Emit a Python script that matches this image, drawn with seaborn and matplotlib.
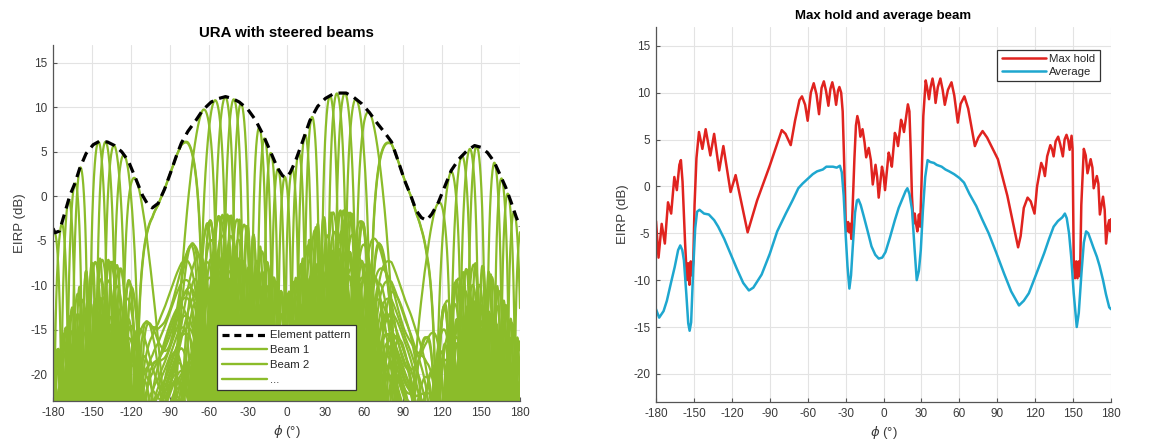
import numpy as np
import pandas as pd
import matplotlib
matplotlib.use("Agg")
import matplotlib.pyplot as plt
import seaborn as sns
from matplotlib.lines import Line2D

# element pattern (phi in deg, EIRP in dB)
ELEM_PHI = [-180, -178.5, -175, -172, -167, -163, -159.5, -154.5, -149, -144, -138,
            -132.5, -127, -122, -116, -111, -107, -103.5, -99, -94, -89, -85, -81,
            -76, -70, -64.5, -58, -52, -47, -42, -36.5, -30, -24, -18, -12, -7, -3,
            0, 3, 7, 12, 18, 24, 30, 36, 41, 46, 52, 58, 64, 70, 76, 81, 86, 91, 96,
            100, 104, 108, 112, 117, 122, 127, 133, 139, 145, 150, 155, 160, 165,
            169, 173, 177, 180]
ELEM_DB = [-3.6, -4.1, -3.9, -2.4, 0.1, 1.5, 3.1, 4.8, 5.8, 6.2, 6.1,
           5.7, 5.0, 4.0, 1.9, 0.1, -0.9, -1.3, -0.8, 0.8, 2.8, 4.5, 6.0,
           7.3, 8.5, 9.7, 10.6, 11.0, 11.2, 11.0, 10.6, 9.8, 8.6, 6.9, 4.9, 3.2, 2.3,
           2.1, 2.7, 4.0, 6.0, 8.5, 10.1, 11.0, 11.5, 11.6, 11.6, 11.1, 10.4, 9.4, 8.2, 7.1, 6.1, 4.0, 1.8, 0.0,
           -1.6, -2.4, -2.7, -2.0, -0.7, 1.1, 2.9, 4.2, 5.1, 5.7, 5.5, 4.9, 3.9, 2.3,
           1.0, -0.6, -2.3, -3.4]

# directions the beams point to (deg), read from the lobe peaks
BEAM_STEER = [-88, -64.5, -55.2, -47.2, -40.5, -34.9,
              -20.7, -16.6, -11.7, -6.3, -1.2, 4.1, 9.0, 13.9, 19.4,
              33.4, 38.8, 45.0, 53.8, 64.0, 88]
N_ELEM = 20
# beams of the other rows seen in the cut: level below the top row (dB)
# and their offset in sin(phi)
ROW_LEVEL = [0, -13.3, -15.5, -17.5, -19.5, -21.5]
ROW_SHIFT = [0, 0.035, -0.03, 0.02, -0.045, 0.01]

# right panel curves (phi, dB)
MAX_HOLD = [(-180, -3.7), (-178, -7.6), (-175.5, -4.0), (-173, -6.1), (-170.5, -1.7),
            (-168, -2.9), (-165.5, 1.0), (-163.5, -0.4), (-161.5, 2.3), (-160.3, 2.8),
            (-159, 0.5), (-157, -6.0), (-155.5, -10.0), (-154.5, -8.2), (-153.5, -10.5),
            (-152.5, -8.0), (-151.5, -9.5), (-150.5, -8.0), (-149.5, -2.0), (-148, 3.0),
            (-146, 5.8), (-143.3, 4.0), (-140.7, 6.1), (-137, 3.3), (-134, 5.6),
            (-130, 1.7), (-126.7, 4.3), (-121, -0.6), (-117, 1.2), (-112, -2.0),
            (-107.5, -4.9), (-100, -1.5), (-90, 2.2), (-84, 4.6), (-80.5, 6.0),
            (-77.5, 5.6), (-73.4, 4.4), (-70, 7.0), (-66.5, 9.2), (-64.5, 9.6),
            (-62, 8.7), (-60, 7.0), (-57.5, 10.0), (-55.2, 11.0), (-53, 9.8),
            (-51, 7.7), (-49, 10.5), (-47.2, 11.2), (-45.5, 10.2), (-43.6, 8.6),
            (-42, 10.4), (-40.5, 11.1), (-39, 10.2), (-37.5, 8.7), (-36, 10.2),
            (-34.9, 10.6), (-33.5, 10.0), (-32.3, 8.0), (-31, 2.0), (-30, -3.6),
            (-29, -4.8), (-28, -3.8), (-27, -4.9), (-26, -4.0), (-25.5, -5.6),
            (-24.5, -2.5), (-23, 3.0), (-21.8, 6.5), (-20.7, 7.5), (-19.5, 6.8),
            (-18.3, 5.3), (-16.6, 6.1), (-15, 4.7), (-13.7, 3.1), (-11.7, 4.1),
            (-10, 2.8), (-8.5, 0.2), (-6.3, 2.3), (-5, 1.0), (-3.8, -1.2),
            (-1.2, 2.1), (0, 1.3), (1.2, -0.4), (4.1, 3.6), (5.3, 3.0),
            (6.6, 2.1), (9, 5.7), (10.2, 5.3), (11.5, 4.3), (13.9, 7.1),
            (15, 6.6), (16.2, 5.8), (19.3, 8.75), (20.5, 8.0), (21.5, 4.0),
            (22.5, -1.0), (23.7, -4.0), (24.7, -2.9), (25.5, -3.8), (26.8, -4.8),
            (28, -3.0), (29, -4.3), (30, 0.0), (31.5, 7.5), (33.4, 11.3),
            (34.8, 10.3), (36, 9.3), (37.3, 10.6), (38.8, 11.5), (40.2, 10.4),
            (41.2, 8.9), (43, 10.6), (45, 11.5), (46.8, 10.3), (48.5, 8.7),
            (51, 10.3), (53.8, 11.1), (56, 9.7), (58.8, 6.8), (61, 8.8),
            (64, 9.6), (67, 8.3), (72.3, 4.3), (75, 5.2), (78.4, 5.9),
            (82, 5.2), (90.5, 2.9), (98, -1.0), (106.5, -6.5), (108.5, -5.3),
            (111, -2.3), (114, -1.2), (116.5, -1.6), (119.5, -2.9), (121.5, 0.0),
            (124.8, 2.5), (126.3, 2.0), (127.7, 1.1), (129.5, 3.2), (132, 4.4),
            (133.3, 4.0), (134.6, 3.2), (136.2, 4.8), (138.2, 5.3), (139.8, 4.5),
            (141.9, 3.2), (143.3, 5.0), (144.8, 5.5), (146.2, 4.9), (147.3, 3.9),
            (148.8, 5.4), (149.6, 4.0), (150.5, -7.8), (151.5, -9.8), (152.5, -8.0),
            (153.5, -9.8), (154.5, -8.0), (155.5, -9.6), (156.5, -2.0), (158.5, 4.0),
            (160, 3.3), (161.4, 1.4), (163.9, 2.9), (165.3, 2.0), (166.3, -0.2),
            (168.8, 1.1), (170, 0.3), (171.2, -3.0), (173.7, -1.1), (175, -2.5),
            (176.1, -6.1), (177.5, -4.2), (178.6, -3.6), (179.3, -4.8), (180, -3.5)]

AVERAGE = [(-180, -13.1), (-177.5, -14.0), (-174, -13.3), (-171.4, -12.2), (-168, -10.2),
           (-165.2, -8.6), (-162.5, -6.8), (-160.8, -6.3), (-159.2, -6.8), (-157.9, -7.9),
           (-156, -11.5), (-154.5, -14.6), (-153.4, -15.4), (-152.2, -14.5), (-150.5, -8.6),
           (-149, -4.5), (-147.5, -2.7), (-145.6, -2.5), (-142, -2.9), (-138.2, -3.0),
           (-134, -3.6), (-130.8, -4.3), (-126, -5.6), (-121, -7.2), (-116, -8.8),
           (-111, -10.3), (-106.5, -11.1), (-103, -10.8), (-96.4, -9.4), (-90, -7.2),
           (-84.1, -4.8), (-77.3, -2.9), (-72, -1.5), (-67.4, -0.2), (-64, 0.3),
           (-60, 0.8), (-56, 1.3), (-52.6, 1.6), (-48, 1.8), (-45.2, 2.1),
           (-40, 2.1), (-37, 2.0), (-34.5, 2.2), (-33, 1.5), (-31.5, -1.0),
           (-30, -5.0), (-28.5, -8.5), (-27, -10.9), (-25.7, -9.5), (-24.3, -6.4),
           (-22.5, -2.8), (-21, -1.5), (-19.8, -1.4), (-18, -2.0), (-15.6, -3.2),
           (-12.5, -4.8), (-9.5, -6.4), (-6.5, -7.3), (-3.8, -7.7), (-1, -7.6),
           (1.6, -7.0), (5, -5.5), (9, -3.6), (12, -2.3), (15.2, -1.25),
           (17.5, -0.5), (18.9, -0.2), (20.5, -0.8), (22.6, -2.5), (24.5, -6.5),
           (26.3, -10.0), (28, -9.0), (29.5, -6.8), (31.2, -2.5), (33, 1.0),
           (34.9, 2.8), (37, 2.6), (39.9, 2.5), (42, 2.3), (46, 2.1),
           (49, 1.8), (52, 1.6), (55.9, 1.3), (60, 0.9), (63.7, 0.4),
           (68, -0.8), (73.4, -2.1), (78, -3.5), (83.2, -5.0), (89, -7.0),
           (95.4, -9.3), (101, -11.2), (107.2, -12.7), (111, -12.2), (115, -11.4),
           (121, -9.3), (127.2, -7.1), (131, -5.6), (134.6, -4.3), (138, -3.7),
           (141.5, -3.3), (143.5, -2.9), (145, -3.4), (146.8, -5.0), (148.5, -7.5),
           (150.5, -11.4), (152.9, -15.0), (154.5, -13.5), (156.6, -9.3), (158.5, -6.0),
           (160.3, -4.8), (162, -5.0), (163.9, -5.7), (166, -6.5), (168.8, -7.5),
           (171, -8.5), (173.7, -10.0), (176, -11.5), (178.6, -12.9), (180, -13.1)]

XTICKS = list(range(-180, 181, 30))
YTICKS = list(range(-20, 16, 5))

GREEN = "#8bbc2a"
RED = "#e0231f"
BLUE = "#1ea7cf"
TEXT = "#3a3a3a"

sns.set_theme(style="whitegrid")
plt.rcParams["font.family"] = ["Liberation Sans", "DejaVu Sans"]
plt.rcParams["mathtext.fontset"] = "dejavusans"
plt.rcParams["axes.unicode_minus"] = False

fig = plt.figure(figsize=(11.61, 4.48), dpi=100)
ax1 = fig.add_axes([53 / 1161, 1 - 401 / 448, 467 / 1161, 356 / 448])
ax2 = fig.add_axes([656 / 1161, 1 - 402 / 448, 455 / 1161, 375 / 448])

# left: every steered beam = element pattern + array factor of the row
phi = np.linspace(-180, 180, 4801)
elem = np.interp(phi, ELEM_PHI, ELEM_DB)
frames = []
k = 0
for level, shift in zip(ROW_LEVEL, ROW_SHIFT):
    for st in BEAM_STEER:
        u0 = np.clip(np.sin(np.radians(st)) + shift, -1, 1)
        x = np.pi * 0.5 * (np.sin(np.radians(phi)) - u0)
        af = np.abs(np.sinc(N_ELEM * x / np.pi) / np.sinc(x / np.pi))
        db = elem + level + 20 * np.log10(np.maximum(af, 1e-4))
        frames.append(pd.DataFrame({"phi": phi, "eirp": db, "beam": k}))
        k += 1
# draw the top row last so its lobes sit on top
beams = pd.concat(frames[::-1], ignore_index=True)

sns.lineplot(data=beams, x="phi", y="eirp", units="beam", estimator=None,
             sort=False, color=GREEN, lw=1.6, ax=ax1)
sns.lineplot(x=ELEM_PHI, y=ELEM_DB, color="black", lw=2.3, sort=False,
             linestyle=(0, (3.2, 2.0)), ax=ax1)

handles = [Line2D([], [], color="black", lw=2.3, linestyle=(0, (2.2, 1.5))),
           Line2D([], [], color=GREEN, lw=1.7),
           Line2D([], [], color=GREEN, lw=1.7),
           Line2D([], [], color=GREEN, lw=1.7)]
leg1 = ax1.legend(handles, ["Element pattern", "Beam 1", "Beam 2", "..."],
                  loc="lower center", bbox_to_anchor=(0.5, 0.031), borderaxespad=0,
                  fontsize=8.2, handlelength=3.9, handletextpad=0.3, labelspacing=0.42,
                  borderpad=0.45, fancybox=False, framealpha=1, edgecolor="#333333")
leg1.get_frame().set_linewidth(0.9)

# right: max hold and average
mh = pd.DataFrame(MAX_HOLD, columns=["phi", "eirp"])
av = pd.DataFrame(AVERAGE, columns=["phi", "eirp"])
sns.lineplot(data=mh, x="phi", y="eirp", color=RED, lw=1.8, sort=False,
             label="Max hold", ax=ax2)
sns.lineplot(data=av, x="phi", y="eirp", color=BLUE, lw=1.8, sort=False,
             label="Average", ax=ax2)
leg2 = ax2.legend(loc="upper right", bbox_to_anchor=(0.976, 0.939), borderaxespad=0,
                  fontsize=8.2, handlelength=3.9, handletextpad=0.3, labelspacing=0.2,
                  borderpad=0.4, fancybox=False, framealpha=1, edgecolor="#333333")
leg2.get_frame().set_linewidth(0.9)

for ax, title, tsize in [(ax1, "URA with steered beams", 10.8),
                         (ax2, "Max hold and average beam", 9.5)]:
    ax.set_xlim(-180, 180)
    ax.set_ylim(-23, 17)
    ax.set_xticks(XTICKS)
    ax.set_yticks(YTICKS)
    ax.grid(True, color="#e3e3e3", lw=0.8)
    ax.set_facecolor("white")
    for side in ["top", "right"]:
        ax.spines[side].set_visible(False)
    for side in ["left", "bottom"]:
        ax.spines[side].set_color("#555555")
        ax.spines[side].set_linewidth(0.9)
    ax.tick_params(axis="both", direction="in", length=3, width=0.8, color="#555555",
                   labelsize=8.5, labelcolor=TEXT, bottom=True, left=True, pad=4)
    ax.set_xlabel(r"$\phi$ (°)", fontsize=9.5, color=TEXT, labelpad=3)
    ax.set_ylabel("EIRP (dB)", fontsize=9.5, color=TEXT, labelpad=3)
    ax.set_title(title, fontsize=tsize, fontweight="bold", color="black", pad=6)

fig.savefig("out.png", dpi=100)
